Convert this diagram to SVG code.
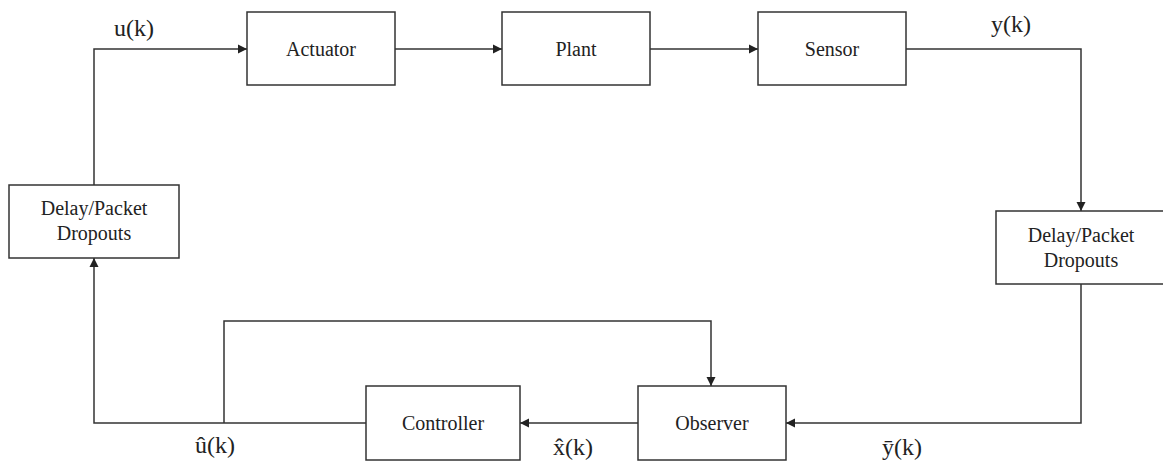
<svg xmlns="http://www.w3.org/2000/svg" width="1163" height="463" viewBox="0 0 1163 463">
<style>
.box{fill:#fff;stroke:#333;stroke-width:1.5}
.lbl{font-family:"Liberation Serif","Times New Roman",serif;font-size:20px;fill:#222;text-anchor:middle}
.sig{font-family:"Liberation Serif","Times New Roman",serif;font-size:24px;fill:#222}
.wire{fill:none;stroke:#333;stroke-width:1.5}
</style>
<defs>
<marker id="arr" viewBox="0 0 10 10" refX="10" refY="5" markerWidth="9" markerHeight="10" markerUnits="userSpaceOnUse" orient="auto">
<path d="M0,0 L10,5 L0,10 Z" fill="#222"/>
</marker>
</defs>
<rect width="1163" height="463" fill="#fff"/>
<g id="connectors">
<polyline class="wire" points="94,185 94,49 247,49" marker-end="url(#arr)"/>
<line class="wire" x1="395" y1="49" x2="502" y2="49" marker-end="url(#arr)"/>
<line class="wire" x1="650" y1="49" x2="758" y2="49" marker-end="url(#arr)"/>
<polyline class="wire" points="906,49 1081,49 1081,211" marker-end="url(#arr)"/>
<polyline class="wire" points="1081,284 1081,423 786,423" marker-end="url(#arr)"/>
<line class="wire" x1="638" y1="423" x2="520" y2="423" marker-end="url(#arr)"/>
<polyline class="wire" points="366,423 94,423 94,258" marker-end="url(#arr)"/>
<polyline class="wire" points="224,423 224,321 711,321 711,386" marker-end="url(#arr)"/>
</g>
<g id="actuator"><rect class="box" x="247" y="12" width="148" height="73"/><text class="lbl" x="321" y="56">Actuator</text></g>
<g id="plant"><rect class="box" x="502" y="12" width="148" height="73"/><text class="lbl" x="576" y="56">Plant</text></g>
<g id="sensor"><rect class="box" x="758" y="12" width="148" height="73"/><text class="lbl" x="832" y="56">Sensor</text></g>
<g id="delay-left"><rect class="box" x="9" y="185" width="170" height="73"/><text class="lbl" x="94" y="215">Delay/Packet</text><text class="lbl" x="94" y="240">Dropouts</text></g>
<g id="delay-right"><rect class="box" x="996" y="211" width="170" height="73"/><text class="lbl" x="1081" y="242">Delay/Packet</text><text class="lbl" x="1081" y="267">Dropouts</text></g>
<g id="controller"><rect class="box" x="366" y="386" width="154" height="74"/><text class="lbl" x="443" y="430">Controller</text></g>
<g id="observer"><rect class="box" x="638" y="386" width="148" height="74"/><text class="lbl" x="712" y="430">Observer</text></g>
<g id="labels">
<text class="sig" x="114" y="36">u(k)</text>
<text class="sig" x="991" y="32">y(k)</text>
<text class="sig" x="195" y="453">û(k)</text>
<text class="sig" x="553" y="455">x̂(k)</text>
<text class="sig" x="882" y="455">ȳ(k)</text>
</g>
</svg>
